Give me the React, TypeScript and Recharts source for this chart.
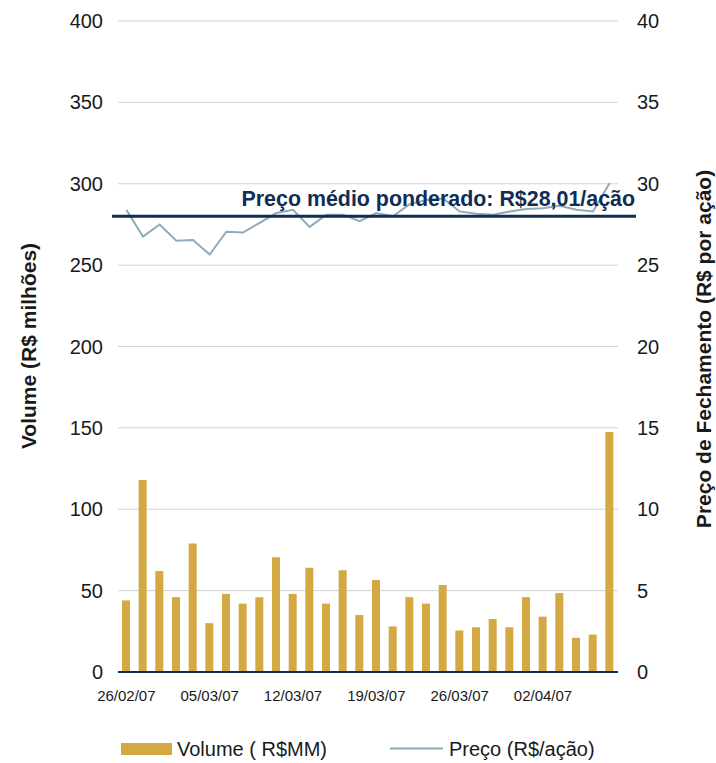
import {
  ComposedChart,
  Bar,
  Line,
  XAxis,
  YAxis,
  CartesianGrid,
  ReferenceLine,
  Legend,
  Label,
} from 'recharts';

const dates = [
  '26/02/07', '27/02/07', '28/02/07', '01/03/07', '02/03/07',
  '05/03/07', '06/03/07', '07/03/07', '08/03/07', '09/03/07',
  '12/03/07', '13/03/07', '14/03/07', '15/03/07', '16/03/07',
  '19/03/07', '20/03/07', '21/03/07', '22/03/07', '23/03/07',
  '26/03/07', '27/03/07', '28/03/07', '29/03/07', '30/03/07',
  '02/04/07', '03/04/07', '04/04/07', '05/04/07', '09/04/07',
];

// volume negociado, R$ milhões
const volume = [
  44, 118, 62, 46, 79, 30, 48, 42, 46, 70.5,
  48, 64, 42, 62.5, 35, 56.5, 28, 46, 42, 53.5,
  25.5, 27.5, 32.5, 27.5, 46, 34, 48.5, 21, 23, 147.5,
];

// preço de fechamento, R$/ação
const price = [
  28.4, 26.75, 27.5, 26.5, 26.55, 25.65, 27.05, 27.0, 27.6, 28.2,
  28.4, 27.35, 28.1, 28.1, 27.7, 28.2, 28.0, 28.75, 29.0, 29.1,
  28.3, 28.15, 28.1, 28.3, 28.45, 28.5, 28.65, 28.4, 28.3, 30.05,
];

const volumeTicks = [0, 50, 100, 150, 200, 250, 300, 350, 400];
const priceTicks = [0, 5, 10, 15, 20, 25, 30, 35, 40];
const avgPrice = 28.01;

const data = dates.map((d, i) => ({ date: d, volume: volume[i], price: price[i] }));

const W = 716;
const H = 763;
const LEFT_AXIS_W = 118;
const RIGHT_AXIS_W = 98;
const PLOT_LEFT = LEFT_AXIS_W;
const PLOT_RIGHT = W - RIGHT_AXIS_W;

const FONT = '"Liberation Sans", Arial, sans-serif';
const GOLD = '#d4a843';
const STEEL = '#8eabb8';
const NAVY = '#112d55';
const GRID = '#c9d6dd';
const INK = '#1a1a1a';

// the average line runs a bit past the plot on both sides, label sits above it
const AvgLine = (p: any) => (
  <g>
    <line x1={PLOT_LEFT - 6} x2={PLOT_RIGHT + 18} y1={p.y1} y2={p.y1} stroke={NAVY} strokeWidth={3} />
    <text
      x={PLOT_RIGHT + 17}
      y={p.y1 - 10}
      textAnchor="end"
      fill={NAVY}
      fontFamily={FONT}
      fontWeight="bold"
      fontSize={21.4}
    >
      Preço médio ponderado: R$28,01/ação
    </text>
  </g>
);

const renderLegend = () => (
  <svg width={W} height={26}>
    <rect x={121} y={5} width={51} height={12} fill={GOLD} />
    <text x={177} y={11} dominantBaseline="central" fontFamily={FONT} fontSize={20} fill={INK}>
      Volume ( R$MM)
    </text>
    <line x1={390} x2={443} y1={10.5} y2={10.5} stroke={STEEL} strokeWidth={2} />
    <text x={449} y={11} dominantBaseline="central" fontFamily={FONT} fontSize={20} fill={INK}>
      Preço (R$/ação)
    </text>
  </svg>
);

export default function App() {
  return (
    <div style={{ position: 'absolute', left: 0, top: 0, background: '#fff' }}>
      <ComposedChart
        width={W}
        height={H}
        data={data}
        margin={{ top: 21, right: 0, bottom: 51, left: 0 }}
      >
        <CartesianGrid vertical={false} stroke={GRID} strokeWidth={1} yAxisId="left" />
        <XAxis
          dataKey="date"
          interval={4}
          tickLine={false}
          tickSize={0}
          tickMargin={18}
          height={40}
          axisLine={{ stroke: NAVY, strokeWidth: 2 }}
          tick={{ fill: INK, fontSize: 15, fontFamily: FONT }}
        />
        <YAxis
          yAxisId="left"
          width={LEFT_AXIS_W}
          domain={[0, 400]}
          ticks={volumeTicks}
          axisLine={false}
          tickLine={false}
          tickSize={0}
          tickMargin={15}
          tick={{ fill: INK, fontSize: 20, fontFamily: FONT }}
        >
          <Label
            content={() => (
              <text
                transform="translate(28,346) rotate(-90)"
                textAnchor="middle"
                dominantBaseline="central"
                fontFamily={FONT}
                fontWeight="bold"
                fontSize={21}
                fill={INK}
              >
                Volume (R$ milhões)
              </text>
            )}
          />
        </YAxis>
        <YAxis
          yAxisId="right"
          orientation="right"
          width={RIGHT_AXIS_W}
          domain={[0, 40]}
          ticks={priceTicks}
          axisLine={false}
          tickLine={false}
          tickSize={0}
          tickMargin={19}
          tick={{ fill: INK, fontSize: 20, fontFamily: FONT }}
        >
          <Label
            content={() => (
              <text
                transform="translate(703,349) rotate(-90)"
                textAnchor="middle"
                dominantBaseline="central"
                fontFamily={FONT}
                fontWeight="bold"
                fontSize={21}
                fill={INK}
              >
                Preço de Fechamento (R$ por ação)
              </text>
            )}
          />
        </YAxis>
        <Bar yAxisId="left" dataKey="volume" fill={GOLD} barSize={8} isAnimationActive={false} />
        <Line
          yAxisId="right"
          dataKey="price"
          type="linear"
          stroke={STEEL}
          strokeWidth={2}
          dot={false}
          activeDot={false}
          isAnimationActive={false}
        />
        <ReferenceLine yAxisId="right" y={avgPrice} shape={AvgLine} />
        <Legend
          verticalAlign="middle"
          align="center"
          layout="horizontal"
          wrapperStyle={{ top: 738, left: 0, width: W, height: 26 }}
          content={renderLegend}
        />
      </ComposedChart>
    </div>
  );
}
